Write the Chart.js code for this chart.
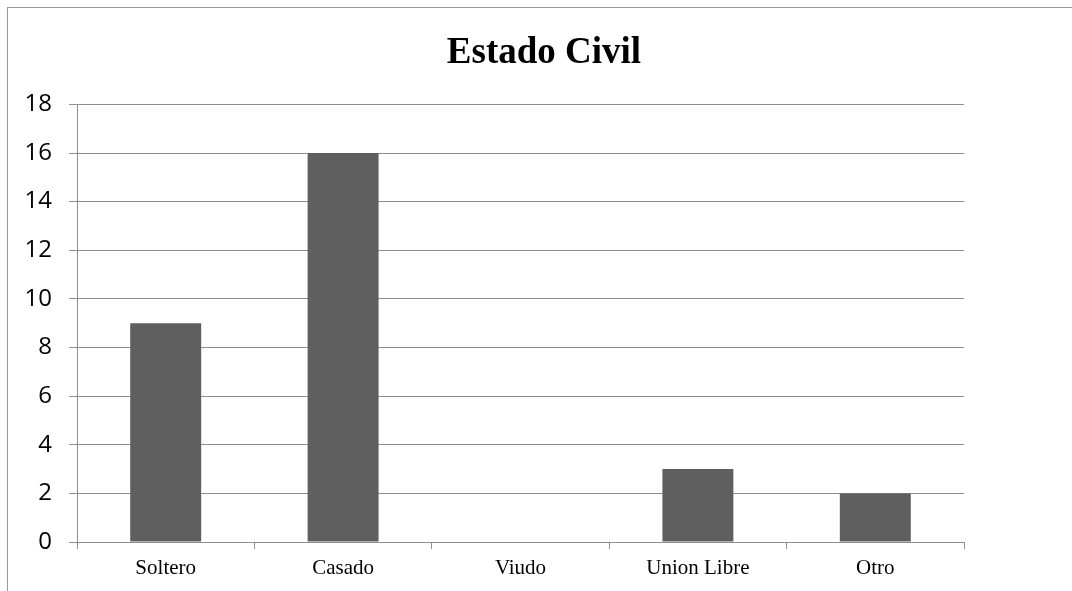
<!DOCTYPE html>
<html>
<head>
<meta charset="utf-8">
<script src="https://cdn.jsdelivr.net/npm/chart.js@4/dist/chart.umd.min.js"></script>
<style>
    html, body { margin: 0; padding: 0; background: #fff; overflow: hidden; }
    #wrap { position: relative; width: 1072px; height: 591px; }
    #frame { position: absolute; left: 7px; top: 7px; width: 1200px; height: 700px;
             border-left: 1px solid #9a9a9a; border-top: 1px solid #9a9a9a; }
    #chart { position: absolute; left: 0; top: 0; }
</style>
</head>
<body>
<div id="wrap">
    <div id="frame"></div>
    <canvas id="chart" width="1072" height="591"></canvas>
</div>
<script>
// ── Datos ─────────────────────────────────────────────────────────────
const categorias = ['Soltero', 'Casado', 'Viudo', 'Union Libre', 'Otro'];
const valores    = [9, 16, 0, 3, 2];
const yTicks     = [0, 2, 4, 6, 8, 10, 12, 14, 16, 18];

const GRID = '#8e8e8e';

new Chart(document.getElementById('chart'), {
    type: 'bar',
    data: {
        labels: categorias,
        datasets: [{
            label: 'Estado Civil',
            data: valores,
            backgroundColor: '#5f5f5f',
            borderWidth: 0,
            barPercentage: 0.4,
            categoryPercentage: 1,
        }]
    },
    options: {
        responsive: false,
        animation: false,
        layout: { padding: { left: 16, right: 0, top: 0, bottom: 0 } },
        plugins: {
            legend: { display: false },
            tooltip: { enabled: false },
            title: {
                display: true,
                text: 'Estado Civil',
                color: '#000',
                font: { family: 'Liberation Serif', size: 37, weight: 'bold' },
                padding: { top: 31, bottom: 29 }
            }
        },
        scales: {
            x: {
                grid: { display: true, drawOnChartArea: false, drawTicks: true, tickLength: 7, color: GRID, offset: true },
                border: { display: true, color: GRID },
                ticks: { color: '#000', padding: 7, font: { family: 'Liberation Serif', size: 21 } },
                afterFit: s => { s.height = 49; }
            },
            y: {
                min: 0,
                max: yTicks[yTicks.length - 1],
                afterBuildTicks: s => { s.ticks = yTicks.map(v => ({ value: v })); },
                grid: { color: GRID, tickLength: 8 },
                border: { display: true, color: GRID },
                ticks: { color: '#000', padding: 17, font: { family: 'Open Sans', size: 24 } },
                afterFit: s => { s.width = 61; }
            },
            // espaciador a la derecha del área de trazado
            derecha: {
                type: 'linear',
                position: 'right',
                display: true,
                grid: { display: false },
                border: { display: false },
                ticks: { display: false },
                afterFit: s => { s.width = 108; }
            }
        }
    }
});
</script>
</body>
</html>
